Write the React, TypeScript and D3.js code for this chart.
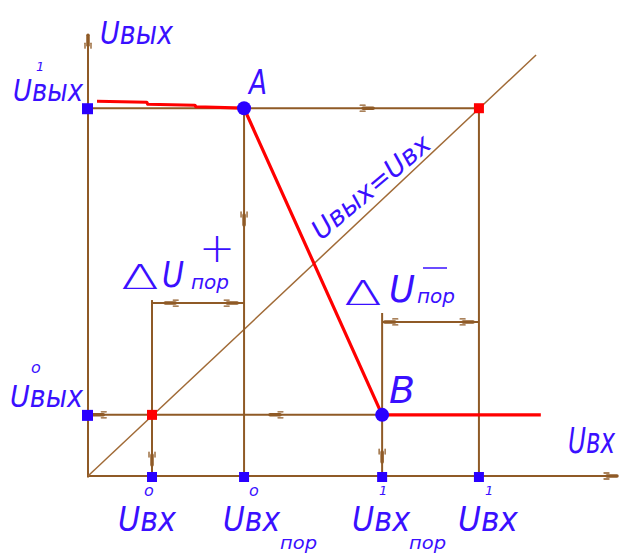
import React from "react";
import * as d3 from "d3";

// ---- data (abstract voltage units) ----
const inputLevelNames = ["U0вх", "U0вх_пор", "U1вх_пор", "U1вх"];
const inputLevels = [12.1, 29.5, 55.6, 73.9];
const inputMarks = ["o", "o", "1", "1"];
const inputSubs = ["", "пор", "пор", ""];
const outputLevels = [12.3, 74.0]; // U0вых, U1вых
const outputMarks = ["o", "1"];
const axisMaxX = 100;
const axisMaxY = 88.7;
const diagonalEnd = 84.7;
const transferX = [1.7, 11.1, 11.3, 20.2, 20.4, 29.5, 55.6, 85.6];
const transferY = [75.4, 75.2, 74.8, 74.6, 74.3, 74.0, 12.3, 12.3];
const hystPlusLevel = 34.8;
const hystMinusLevel = 31.0;
const extPlusTop = 35.4;
const extMinusTop = 32.8;

const W = 622;
const H = 553;
const BROWN = "#8f5a26";
const BLUE = "#3a10ff";
const RED = "#ff0000";
const FONT = "'DejaVu Sans', sans-serif";

const x = d3.scaleLinear().domain([0, 100]).range([88, 617]);
const y = d3.scaleLinear().domain([0, 100]).range([476, -21]);

type Arrow = { px: number; py: number; dx: number; dy: number };

function ArrowMark({ a }: { a: Arrow }) {
  const tx = x(a.px);
  const ty = y(a.py);
  const sdx = a.dx;
  const sdy = -a.dy;
  const snx = -sdy;
  const sny = sdx;
  const q = (along: number, side: number) =>
    [tx - sdx * along + snx * side, ty - sdy * along + sny * side];
  const t0 = q(0, 0);
  const t1 = q(10, 0);
  const f1a = q(8, 3);
  const f1b = q(13, 3);
  const f2a = q(8, -3);
  const f2b = q(13, -3);
  return (
    <g stroke={BROWN} fill="none" strokeLinecap="round">
      <line x1={t0[0]} y1={t0[1]} x2={t1[0]} y2={t1[1]} strokeWidth={3.5} />
      <line x1={f1a[0]} y1={f1a[1]} x2={f1b[0]} y2={f1b[1]} strokeWidth={1.3} />
      <line x1={f2a[0]} y1={f2a[1]} x2={f2b[0]} y2={f2b[1]} strokeWidth={1.3} />
    </g>
  );
}

const arrows: Arrow[] = [
  { px: 0, py: axisMaxY, dx: 0, dy: 1 },
  { px: axisMaxX, py: 0, dx: 1, dy: 0 },
  { px: 53.9, py: outputLevels[1], dx: 1, dy: 0 },
  { px: inputLevels[1], py: 50.5, dx: 0, dy: -1 },
  { px: 34.4, py: outputLevels[0], dx: -1, dy: 0 },
  { px: 1.0, py: outputLevels[0], dx: -1, dy: 0 },
  { px: inputLevels[0], py: 2.2, dx: 0, dy: -1 },
  { px: inputLevels[2], py: 2.8, dx: 0, dy: -1 },
  { px: 14.6, py: hystPlusLevel, dx: -1, dy: 0 },
  { px: 28.2, py: hystPlusLevel, dx: 1, dy: 0 },
  { px: 56.1, py: hystMinusLevel, dx: -1, dy: 0 },
  { px: 72.8, py: hystMinusLevel, dx: 1, dy: 0 },
];

// label layout (screen offsets)
const bottomLabelDx = [-34, -21, -30, -21];
const bottomLabelW = [58, 57, 58, 60];

export default function App() {
  const line = d3
    .line<number>()
    .x((_, i) => x(transferX[i]))
    .y((_, i) => y(transferY[i]));
  const transferPath = line(transferX) || "";

  const L = (x1: number, y1: number, x2: number, y2: number, w = 2, c = BROWN) => (
    <line x1={x(x1)} y1={y(y1)} x2={x(x2)} y2={y(y2)} stroke={c} strokeWidth={w} />
  );

  const [u0in, u0inP, u1inP, u1in] = inputLevels;
  const [u0out, u1out] = outputLevels;

  return (
    <svg width={W} height={H} style={{ position: "absolute", left: 0, top: 0, background: "#fff" }}>
      <rect x={0} y={0} width={W} height={H} fill="#fff" />
      {/* clipped black text at top right */}
      <text x={562} y={-5} fontFamily="'Liberation Serif', serif" fontSize={26} fill="#000">
        р д
      </text>

      {/* axes */}
      {L(0, -0.3, 0, axisMaxY, 2)}
      {L(0, 0, axisMaxX, 0, 2)}

      {/* diagonal Uвых = Uвх */}
      {L(0, 0, diagonalEnd, diagonalEnd, 1.5, "#a06a36")}

      {/* construction lines */}
      {L(0, u1out, u1in, u1out, 2)}
      {L(u1in, u1out, u1in, 0, 2)}
      {L(u0inP, u1out, u0inP, 0, 2)}
      {L(0, u0out, u1inP, u0out, 2)}
      {L(u0in, extPlusTop, u0in, 0, 2)}
      {L(u1inP, extMinusTop, u1inP, 0, 2)}
      {L(u0in, hystPlusLevel, u0inP, hystPlusLevel, 2)}
      {L(u1inP, hystMinusLevel, u1in, hystMinusLevel, 2)}

      {arrows.map((a, i) => (
        <ArrowMark key={i} a={a} />
      ))}

      {/* transfer characteristic */}
      <path d={transferPath} fill="none" stroke={RED} strokeWidth={3.2} strokeLinejoin="round" />

      {/* markers */}
      {outputLevels.map((v, i) => (
        <rect key={"om" + i} x={x(0) - 6} y={y(v) - 5} width={11} height={11} fill="#2a00ff" />
      ))}
      {inputLevels.map((v, i) => (
        <rect key={"im" + i} x={x(v) - 5} y={y(0) - 4} width={10} height={10} fill="#2a00ff" />
      ))}
      <rect x={x(u1in) - 5} y={y(u1out) - 5} width={10} height={10} fill={RED} />
      <rect x={x(u0in) - 5} y={y(u0out) - 5} width={10} height={10} fill={RED} />
      <circle cx={x(u0inP)} cy={y(u1out)} r={7} fill="#2a00ff" />
      <circle cx={x(u1inP)} cy={y(u0out)} r={7} fill="#2a00ff" />

      {/* labels */}
      <g fill={BLUE} fontFamily={FONT} fontStyle="italic" fontWeight={200}>
        <text x={100} y={44} fontSize={32} textLength={73} lengthAdjust="spacingAndGlyphs">Uвых</text>
        <text x={568} y={453} fontSize={36} textLength={47} lengthAdjust="spacingAndGlyphs">Uвх</text>

        {/* output level labels */}
        <text x={36} y={71} fontSize={13}>{outputMarks[1]}</text>
        <text x={13} y={101} fontSize={31} textLength={70} lengthAdjust="spacingAndGlyphs">Uвых</text>
        <text x={31} y={373} fontSize={16}>{outputMarks[0]}</text>
        <text x={10} y={407} fontSize={31} textLength={73} lengthAdjust="spacingAndGlyphs">Uвых</text>

        <text x={249} y={94} fontSize={34} textLength={18} lengthAdjust="spacingAndGlyphs">A</text>
        <text x={389} y={403} fontSize={38} textLength={26} lengthAdjust="spacingAndGlyphs">B</text>

        {/* bottom input labels */}
        {inputLevels.map((v, i) => {
          const sx = x(v) + bottomLabelDx[i];
          const isZero = inputMarks[i] === "o";
          return (
            <g key={"il" + i}>
              <text x={sx + (isZero ? 26 : 27)} y={isZero ? 496 : 495} fontSize={isZero ? 16 : 13}>
                {inputMarks[i]}
              </text>
              <text x={sx} y={531} fontSize={34} textLength={bottomLabelW[i]} lengthAdjust="spacingAndGlyphs">
                Uвх
              </text>
              {inputSubs[i] && (
                <text x={sx + 57} y={549} fontSize={17} textLength={37} lengthAdjust="spacingAndGlyphs">
                  {inputSubs[i]}
                </text>
              )}
            </g>
          );
        })}

        {/* hysteresis labels */}
        <text x={121} y={289} fontSize={33} fontStyle="normal" textLength={38} lengthAdjust="spacingAndGlyphs">Δ</text>
        <text x={162} y={287} fontSize={36} textLength={22} lengthAdjust="spacingAndGlyphs">U</text>
        <text x={191} y={289} fontSize={19} textLength={38} lengthAdjust="spacingAndGlyphs">пор</text>
        <text x={199} y={262} fontSize={40} fontStyle="normal" textLength={36} lengthAdjust="spacingAndGlyphs">+</text>

        <text x={344} y={305} fontSize={33} fontStyle="normal" textLength={38} lengthAdjust="spacingAndGlyphs">Δ</text>
        <text x={389} y={302} fontSize={38} textLength={26} lengthAdjust="spacingAndGlyphs">U</text>
        <text x={417} y={303} fontSize={19} textLength={38} lengthAdjust="spacingAndGlyphs">пор</text>
        <line x1={423} y1={268} x2={447} y2={268} stroke={BLUE} strokeWidth={1.5} />

        {/* diagonal label */}
        <text
          transform={`translate(321,241) rotate(-40)`}
          fontSize={27}
          textLength={146}
          lengthAdjust="spacingAndGlyphs"
        >
          Uвых=Uвх
        </text>
      </g>
    </svg>
  );
}
